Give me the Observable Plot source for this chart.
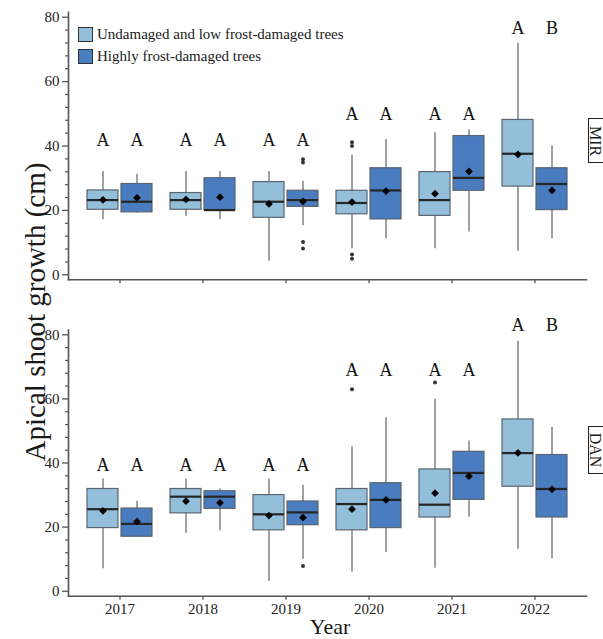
<!DOCTYPE html>
<html>
<head>
<meta charset="utf-8">
<script src="https://cdn.jsdelivr.net/npm/d3@7"></script>
<script src="https://cdn.jsdelivr.net/npm/@observablehq/plot@0.6"></script>
<style>
  html, body { margin: 0; padding: 0; background: #fff; }
  #chart { position: relative; width: 603px; height: 639px; overflow: hidden; font-family: "Liberation Serif", "Times New Roman", serif; color: #1a1a1a; }
  #chart svg { position: absolute; left: 0; }
  #chart svg, #chart svg text { font-family: "Liberation Serif", "Times New Roman", serif !important; }
  .legend-row { position: absolute; left: 78px; display: flex; align-items: center; font-size: 15px; line-height: 1; white-space: nowrap; }
  .swatch { width: 15px; height: 15px; box-sizing: border-box; border: 1.3px solid #333; margin-right: 4px; }
  .strip { position: absolute; left: 588px; width: 40px; box-sizing: border-box; border: 1.2px solid #222; background: #fff; }
  .strip-label { position: absolute; font-size: 16px; line-height: 1; white-space: nowrap; transform: translate(-50%, -50%) rotate(90deg); }
  .ytitle { position: absolute; left: 35px; top: 312px; font-size: 29px; line-height: 1; white-space: nowrap; transform: translate(-50%, -50%) rotate(-90deg); }
  .xtitle { position: absolute; left: 330px; top: 614px; font-size: 22px; line-height: normal; white-space: nowrap; transform: translateX(-50%); }
</style>
</head>
<body>
<div id="chart"></div>
<script>
// Apical shoot growth of trees by year, split by frost-damage class, at two sites.
const years = ["2017", "2018", "2019", "2020", "2021", "2022"];
const groups = ["Undamaged and low frost-damaged trees", "Highly frost-damaged trees"];
const groupFill = ["#93bfdb", "#4a7cc0"];
const sites = ["MIR", "DAN"];

// Box summaries per year: lower whisker, Q1, median, Q3, upper whisker, mean (cm)
const statKeys = ["lo", "q1", "med", "q3", "hi", "mean"];
const mirUndamaged = [
  [17.2, 20.2, 23.2, 26.2, 32.1, 23.3],
  [18.2, 20.2, 23.2, 25.4, 32.1, 23.4],
  [4.2, 17.7, 22.7, 28.8, 32.1, 22.0],
  [8.1, 18.8, 22.3, 26.1, 37.1, 22.6],
  [8.1, 18.3, 23.2, 31.9, 44.1, 25.2],
  [7.3, 27.4, 37.6, 48.1, 71.9, 37.4]
];
const mirDamaged = [
  [19.2, 19.4, 22.7, 28.2, 31.2, 23.9],
  [17.2, 20.1, 20.1, 30.0, 32.1, 24.1],
  [15.2, 21.1, 23.2, 26.1, 29.0, 22.8],
  [11.2, 17.2, 26.2, 33.1, 42.0, 26.0],
  [13.3, 26.1, 30.1, 43.1, 45.0, 32.1],
  [11.2, 20.1, 28.2, 33.1, 40.1, 26.2]
];
const danUndamaged = [
  [7.0, 19.7, 25.6, 31.9, 35.0, 25.1],
  [18.1, 24.3, 29.5, 31.9, 35.0, 28.1],
  [3.0, 19.0, 24.0, 30.0, 35.0, 23.6],
  [6.0, 19.0, 27.2, 31.9, 45.1, 25.6],
  [7.2, 23.0, 27.0, 38.0, 59.9, 30.6],
  [13.1, 32.6, 43.1, 53.6, 78.0, 43.2]
];
const danDamaged = [
  [17.0, 17.0, 21.0, 25.8, 28.0, 21.7],
  [18.9, 25.7, 29.5, 31.2, 31.9, 27.6],
  [10.0, 20.6, 24.6, 28.0, 33.0, 23.0],
  [12.1, 19.7, 28.5, 33.7, 54.1, 28.5],
  [23.1, 28.5, 36.9, 43.5, 46.9, 35.9],
  [10.1, 23.0, 31.9, 42.5, 51.1, 31.8]
];

// Outliers: [year, group index, value]
const mirOutliers = [
  ["2019", 1, 35.9], ["2019", 1, 34.9], ["2019", 1, 10.2], ["2019", 1, 8.2],
  ["2020", 0, 41.2], ["2020", 0, 40.0], ["2020", 0, 6.3], ["2020", 0, 5.0]
];
const danOutliers = [
  ["2019", 1, 7.9], ["2020", 0, 63.0], ["2021", 0, 65.1]
];

// Significance letters per year (undamaged, damaged) and the height they sit at
const mirLetters = [["A", "A"], ["A", "A"], ["A", "A"], ["A", "A"], ["A", "A"], ["A", "B"]];
const mirLetterY = [40, 40, 40, 48.2, 48.2, 74.8];
const danLetters = [["A", "A"], ["A", "A"], ["A", "A"], ["A", "A"], ["A", "A"], ["A", "B"]];
const danLetterY = [37.5, 37.5, 37.5, 67, 67, 81.1];

const yMajor = [0, 20, 40, 60, 80];
const yMinor = d3.range(4, 80, 4).filter(v => v % 20 !== 0);

const axisColor = "#555";
const groupShift = [-17, 17];

function boxRows(stats, g) {
  return stats.map((s, i) => {
    const row = {year: years[i], group: g};
    statKeys.forEach((k, j) => (row[k] = s[j]));
    return row;
  });
}

function panel({undamaged, damaged, outliers, letters, letterY, height, marginTop, marginBottom, showYears}) {
  const boxes = [...boxRows(undamaged, 0), ...boxRows(damaged, 1)];
  const outl = outliers.map(([year, group, v]) => ({year, group, v}));
  const labels = letters.flatMap((pair, i) => pair.map((t, g) => ({year: years[i], group: g, text: t, y: letterY[i]})));

  const marks = [
    Plot.frame({anchor: "left", stroke: axisColor, strokeWidth: 1.6}),
    Plot.frame({anchor: "bottom", stroke: axisColor, strokeWidth: 1.6}),
    Plot.axisY({ticks: yMajor, tickSize: 6, tickPadding: 3, stroke: axisColor, strokeWidth: 1.3, fill: "#222", fontSize: 15, label: null}),
    Plot.axisY({ticks: yMinor, tickSize: 3, stroke: axisColor, strokeWidth: 1.2, fill: "none", label: null}),
    Plot.axisX({tickSize: 4, tickPadding: 3, stroke: axisColor, strokeWidth: 1.3, fill: showYears ? "#222" : "none", fontSize: 15, label: null})
  ];

  for (const g of [0, 1]) {
    const dx = groupShift[g];
    const B = boxes.filter(d => d.group === g);
    marks.push(
      Plot.ruleX(B, {x: "year", y1: "lo", y2: "hi", dx, stroke: "#6f6f6f", strokeWidth: 1.3}),
      Plot.barY(B, {x: "year", y1: "q1", y2: "q3", dx, fill: groupFill[g], stroke: "#5b6570", strokeWidth: 1.2}),
      Plot.tickY(B, {x: "year", y: "med", dx, stroke: "#262626", strokeWidth: 2.2}),
      Plot.dot(outl.filter(d => d.group === g), {x: "year", y: "v", dx, r: 2, fill: "#333", stroke: null}),
      Plot.dot(B, {x: "year", y: "mean", dx, symbol: "square", rotate: 45, r: 3.1, fill: "#000", stroke: null}),
      Plot.text(labels.filter(d => d.group === g), {x: "year", y: "y", text: "text", dx, lineAnchor: "bottom", fontSize: 18, fill: "#111"})
    );
  }

  return Plot.plot({
    width: 603,
    height,
    marginLeft: 68,
    marginRight: 17,
    marginTop,
    marginBottom,
    x: {type: "band", domain: years, paddingInner: 0.624, paddingOuter: 0.4},
    y: {domain: [-1.55, 81.5]},
    style: {fontSize: "15px", background: "transparent", color: "#222", overflow: "visible"},
    marks
  });
}

const chart = document.getElementById("chart");

const mirPanel = panel({undamaged: mirUndamaged, damaged: mirDamaged, outliers: mirOutliers, letters: mirLetters, letterY: mirLetterY,
  height: 300, marginTop: 11.9, marginBottom: 20.7, showYears: false});
mirPanel.style.top = "0px";
chart.appendChild(mirPanel);

const danPanel = panel({undamaged: danUndamaged, damaged: danDamaged, outliers: danOutliers, letters: danLetters, letterY: danLetterY,
  height: 339, marginTop: 29.5, marginBottom: 43.3, showYears: true});
danPanel.style.top = "300px";
chart.appendChild(danPanel);

// Legend inside the upper panel
groups.forEach((name, g) => {
  const row = document.createElement("div");
  row.className = "legend-row";
  row.style.top = (g === 0 ? 27 : 49) + "px";
  const sw = document.createElement("div");
  sw.className = "swatch";
  sw.style.background = groupFill[g];
  const label = document.createElement("span");
  label.textContent = name;
  row.append(sw, label);
  chart.appendChild(row);
});

// Site strips on the right edge, one per panel
[[sites[0], 118, 45], [sites[1], 426, 48]].forEach(([name, stripTop, h]) => {
  const strip = document.createElement("div");
  strip.className = "strip";
  strip.style.top = stripTop + "px";
  strip.style.height = h + "px";
  chart.appendChild(strip);
  const s = document.createElement("div");
  s.className = "strip-label";
  s.textContent = name;
  s.style.left = "595px";
  s.style.top = (stripTop + h / 2) + "px";
  chart.appendChild(s);
});

const yt = document.createElement("div");
yt.className = "ytitle";
yt.textContent = "Apical shoot growth (cm)";
chart.appendChild(yt);

const xt = document.createElement("div");
xt.className = "xtitle";
xt.textContent = "Year";
chart.appendChild(xt);
</script>
</body>
</html>
